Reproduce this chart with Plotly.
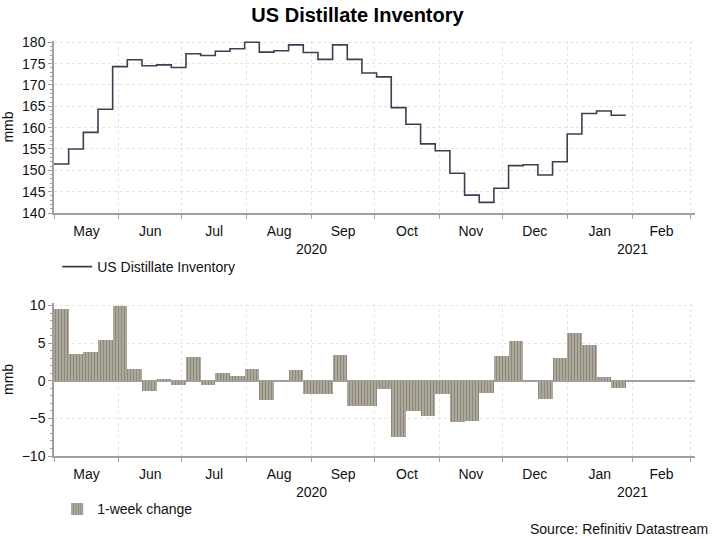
import pandas as pd
import plotly.graph_objects as go

# weekly values, week-ending Fridays
start_date = "2020-05-01"
inventory = [151.5, 155.0, 158.9, 164.3, 174.3, 175.9, 174.5, 174.7, 174.1, 177.3,
             176.9, 177.9, 178.5, 180.0, 177.7, 178.0, 179.4, 177.6, 176.0, 179.4,
             176.0, 172.8, 171.9, 164.7, 160.8, 156.2, 154.6, 149.3, 144.2, 142.5,
             145.8, 151.1, 151.3, 148.9, 152.0, 158.5, 163.3, 163.9, 162.9]
week_change = [9.5, 3.6, 3.8, 5.5, 10.0, 1.6, -1.4, 0.2, -0.6, 3.2,
               -0.5, 1.1, 0.6, 1.6, -2.5, 0.1, 1.4, -1.8, -1.7, 3.4,
               -3.4, -3.3, -1.1, -7.4, -4.0, -4.6, -1.7, -5.5, -5.3, -1.6,
               3.3, 5.3, 0.1, -2.4, 3.0, 6.4, 4.8, 0.5, -0.9]
year_labels = ["2020", "2021"]
year_label_dates = ["2020-09-01", "2021-02-01"]

dates = pd.date_range(start_date, periods=len(inventory), freq="7D")
week = pd.Timedelta(days=7)

# step line: hold the last weekly value for its week
line_x = list(dates) + [dates[-1] + week]
line_y = inventory + [inventory[-1]]

font = "Liberation Sans, Arial, sans-serif"
axis_grey = "#a0a0a0"
grid_col = "#ebe3e3"
fsize = 14

fig = go.Figure()
fig.add_trace(go.Scatter(
    x=line_x, y=line_y, mode="lines", line_shape="hv",
    line=dict(color="#3e3e52", width=1.6),
    name="US Distillate Inventory", legend="legend",
    xaxis="x", yaxis="y",
))
fig.add_trace(go.Bar(
    x=dates + week / 2, y=week_change, width=week.total_seconds() * 1000,
    marker=dict(color="#b9ccb4", line_width=0,
                pattern=dict(shape="|", fgcolor="#723c47", bgcolor="#b9ccb4",
                             size=3, solidity=0.65)),
    name="1-week change", legend="legend2",
    xaxis="x2", yaxis="y2",
))

xcommon = dict(
    type="date", range=["2020-05-01", "2021-03-03"],
    dtick="M1", tick0="2020-05-01", tickformat="%b", ticklabelmode="period",
    ticks="outside", ticklen=4, tickcolor=axis_grey,
    showline=True, linecolor=axis_grey, linewidth=1.5,
    showgrid=True, gridcolor=grid_col, griddash="dot",
    tickfont=dict(size=fsize, color="#111111"), zeroline=False, automargin=False,
)
ycommon = dict(
    ticks="outside", ticklen=4, tickcolor=axis_grey,
    showline=True, linecolor=axis_grey, linewidth=1.5,
    showgrid=True, gridcolor=grid_col, griddash="dot",
    tickfont=dict(size=fsize, color="#111111"), automargin=False,
    title=dict(text="mmb", font=dict(size=fsize), standoff=10),
    minor=dict(dtick=1, ticks="outside", ticklen=2, tickcolor=axis_grey, showgrid=False),
)

fig.update_layout(
    width=715, height=539,
    margin=dict(l=54, r=20, t=41, b=83),
    paper_bgcolor="white", plot_bgcolor="white",
    font=dict(family=font, size=fsize, color="#111111"),
    title=dict(text="<b>US Distillate Inventory</b>", x=0.5, xanchor="center",
               y=1 - 15 / 539, yanchor="middle", font=dict(size=20, color="#000000"),
               automargin=False),
    xaxis=dict(xcommon, domain=[0, 1], anchor="y"),
    yaxis=dict(ycommon, domain=[0.5855, 1], range=[140, 180.3], dtick=5, anchor="x"),
    xaxis2=dict(xcommon, domain=[0, 1], anchor="y2"),
    yaxis2=dict(ycommon, domain=[0, 0.369], range=[-10, 10.35], dtick=5, anchor="x2",
                zeroline=True, zerolinecolor=axis_grey, zerolinewidth=1.5),
    bargap=0,
    legend=dict(x=0.005, y=0.494, xanchor="left", yanchor="top",
                bgcolor="rgba(0,0,0,0)", font=dict(size=fsize)),
    legend2=dict(x=0.005, y=-0.09, xanchor="left", yanchor="top",
                 bgcolor="rgba(0,0,0,0)", font=dict(size=fsize)),
    showlegend=True,
)

for lbl, d in zip(year_labels, year_label_dates):
    fig.add_annotation(x=d, xref="x", y=0.5855, yref="paper", yanchor="middle",
                       yshift=-36, text=lbl, showarrow=False, font=dict(size=fsize))
    fig.add_annotation(x=d, xref="x2", y=0, yref="paper", yanchor="middle",
                       yshift=-36, text=lbl, showarrow=False, font=dict(size=fsize))

fig.add_annotation(text="Source: Refinitiv Datastream", x=1.023, xref="paper",
                   xanchor="right", y=-0.176, yref="paper", yanchor="middle",
                   showarrow=False, font=dict(size=fsize))

# drop the default page margin so the figure sits at the window's corner
fig.write_html("out.html", config={"displayModeBar": False},
               post_script="document.body.style.margin = '0';")
